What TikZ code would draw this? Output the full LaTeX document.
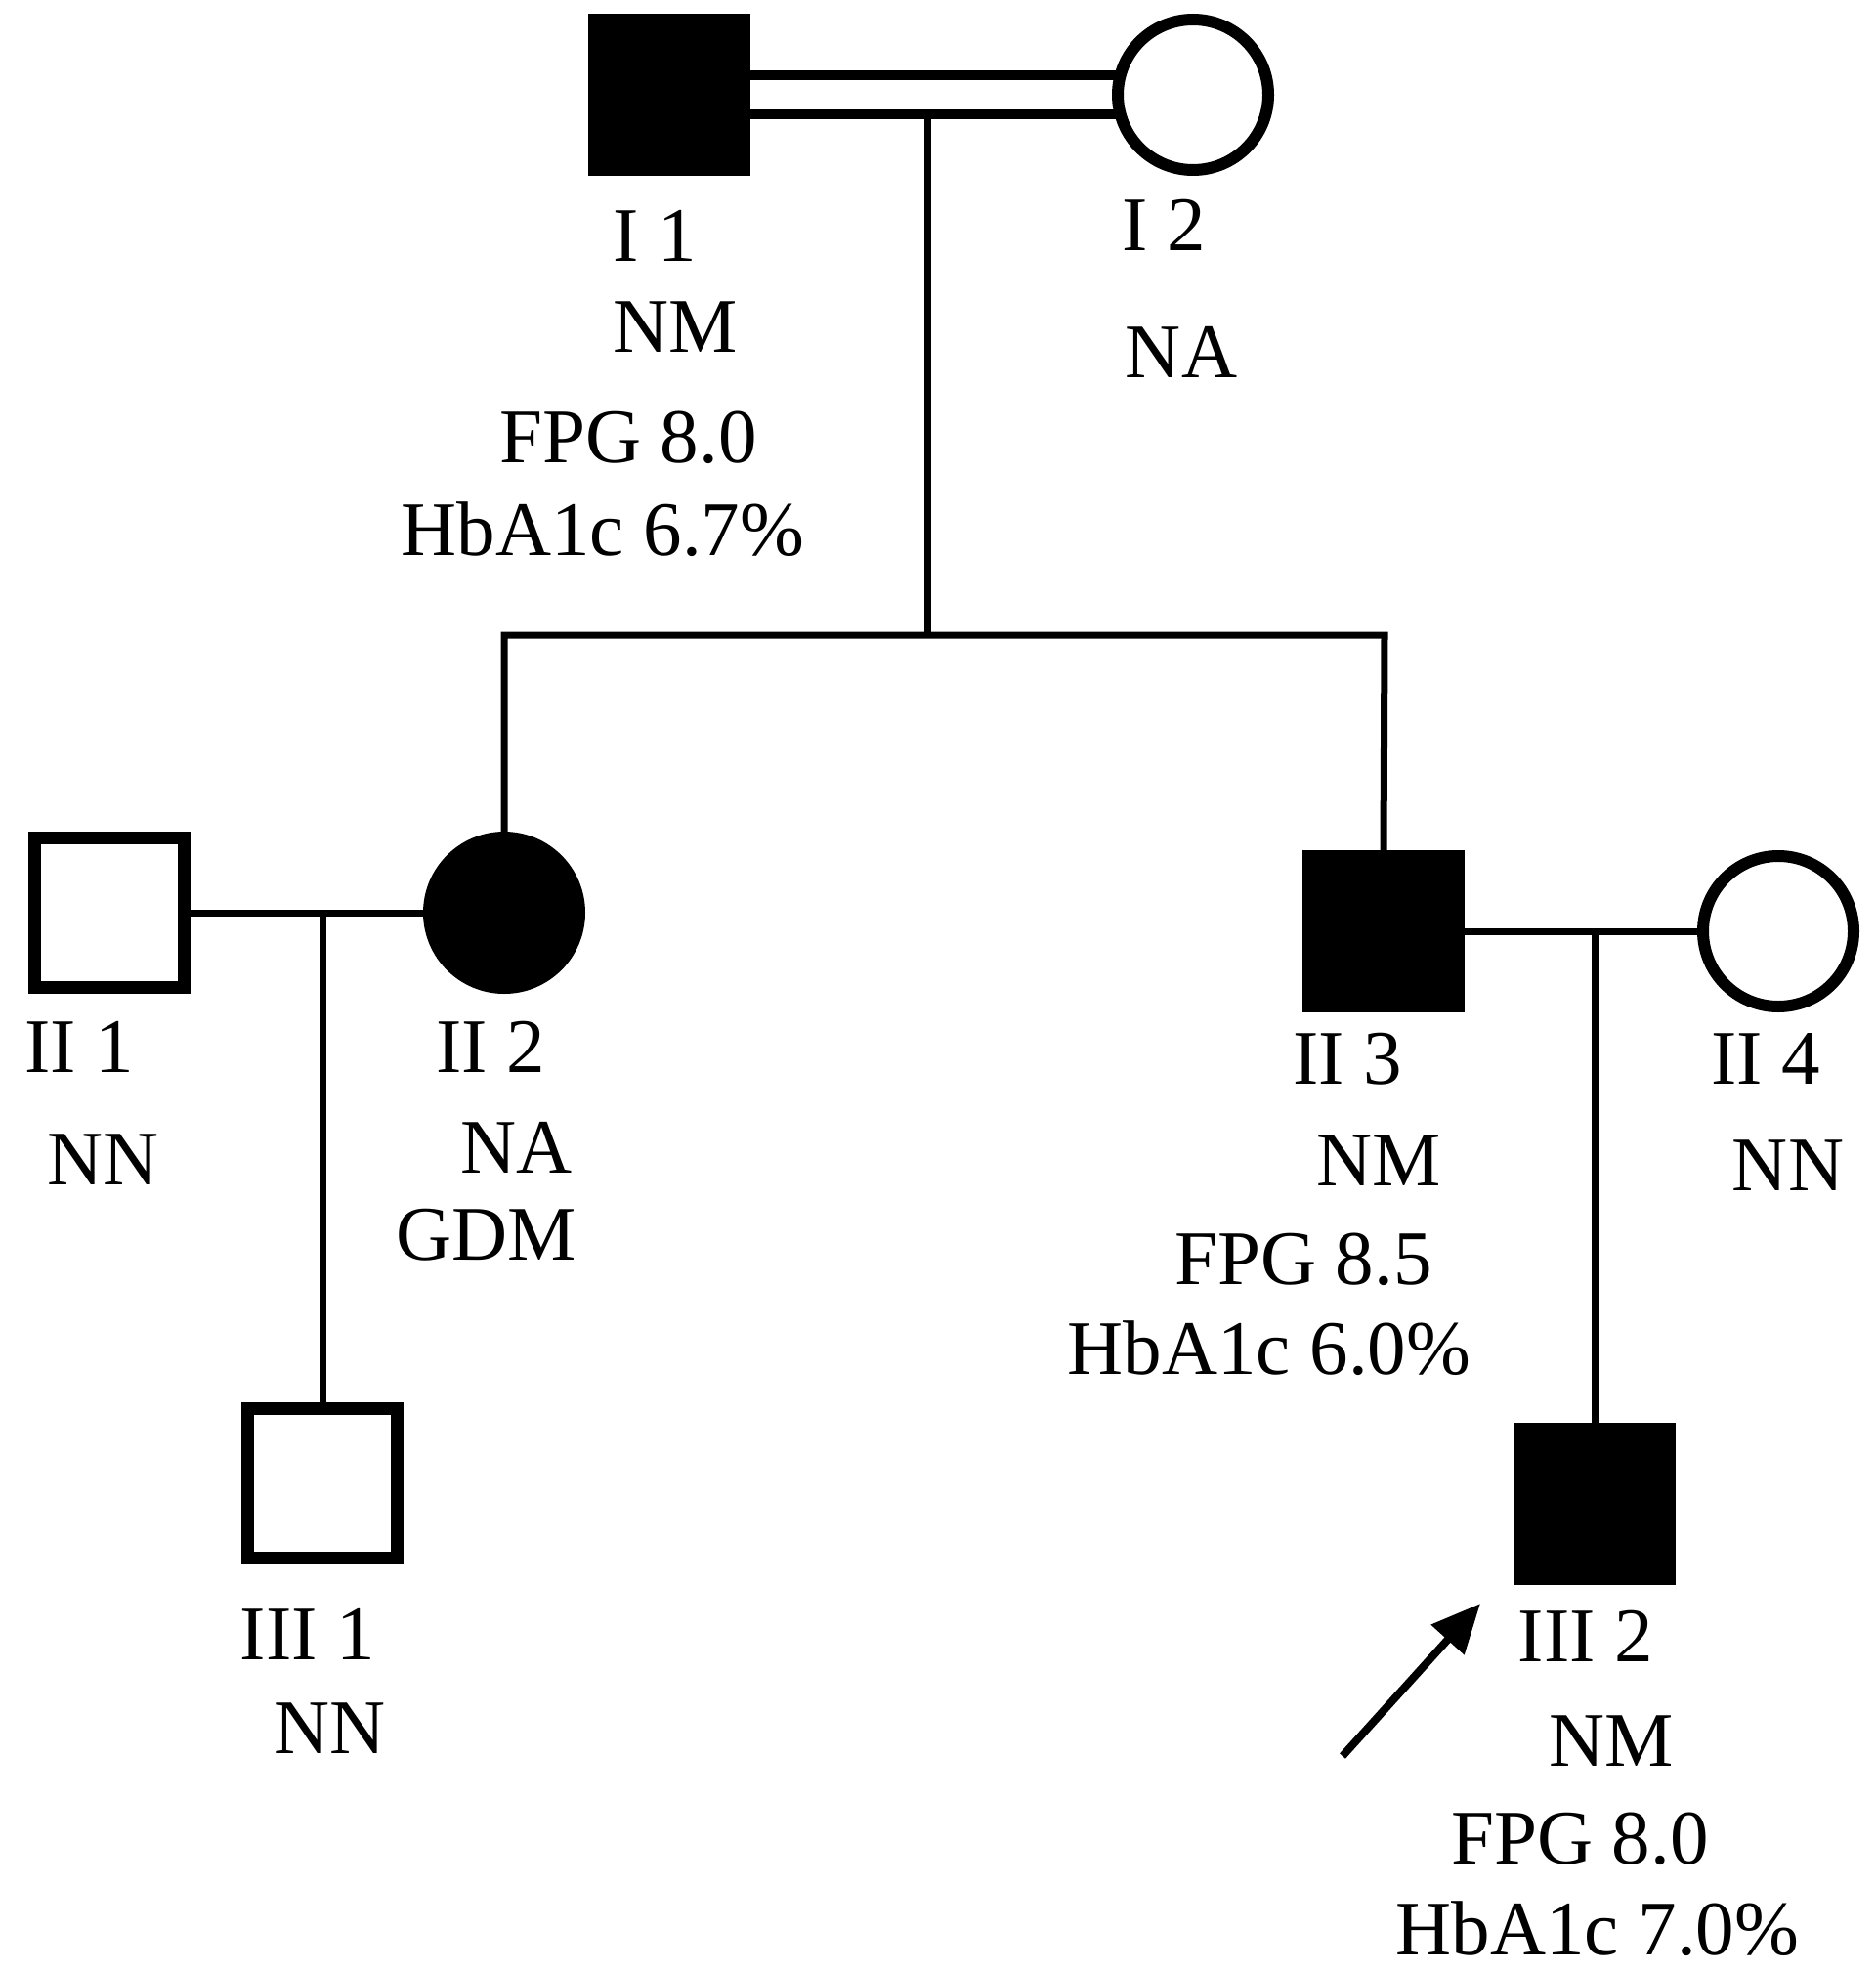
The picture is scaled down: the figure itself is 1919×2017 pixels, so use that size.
\documentclass[tikz,border=0pt]{standalone}
\usepackage{fontspec}
\setmainfont{Liberation Serif}
\usetikzlibrary{arrows.meta}
\pgfdeclarelayer{bg}
\pgfsetlayers{bg,main}
\begin{document}
\begin{tikzpicture}[x=1pt,y=-1pt,
  filledm/.style={rectangle,fill=black,minimum size=166pt,inner sep=0pt,outer sep=0pt},
  openm/.style={rectangle,draw=black,fill=white,line width=13pt,minimum size=153pt,inner sep=0pt,outer sep=0pt},
  openf/.style={circle,draw=black,fill=white,line width=12pt,minimum size=154pt,inner sep=0pt,outer sep=0pt},
  filledf/.style={circle,fill=black,minimum size=166pt,inner sep=0pt,outer sep=0pt},
  link/.style={line width=7pt},
  lbl/.style={anchor=base,inner sep=0pt,font=\fontsize{79}{90}\selectfont}]
\begin{pgfonlayer}{bg}
\fill[white] (0,0) rectangle (1919,2017);
\end{pgfonlayer}
\useasboundingbox (0,0) rectangle (1919,2017);

% individuals
\node[filledm] (I1) at (685,97) {};
\node[openf]   (I2) at (1221,97) {};
\node[openm]   (II1) at (112,934) {};
\node[filledf] (II2) at (516,934) {};
\node[filledm] (II3) at (1416,953) {};
\node[openf]   (II4) at (1820,953) {};
\node[openm]   (III1) at (330,1518) {};
\node[filledm] (III2) at (1632,1539) {};

% line junctions
\coordinate (m1) at (949,120);
\coordinate (s1) at (949,650);
\coordinate (sL) at (516,650);
\coordinate (sR) at (1417,650);
\coordinate (c1) at (330,934);
\coordinate (c2) at (1632,953);
\coordinate (a1) at (1374,1797);
\coordinate (a2) at (1515,1641);

\begin{pgfonlayer}{bg}
\draw[link] (m1) -- (s1);
\draw[link,line join=miter] (II2.north) -- (sL) -- (sR) -- (II3.north);
\draw[line width=10pt,double=white,double distance=30pt] (I1.east) -- (I2.west);
\draw[link] (II1.east) -- (II2.west);
\draw[link] (c1) -- (III1.north);
\draw[link] (II3.east) -- (II4.west);
\draw[link] (c2) -- (III2.north);
\end{pgfonlayer}

% proband arrow
\draw[line width=8pt,-{Triangle[length=50pt,width=44pt]}] (a1) -- (a2);

% labels
\node[lbl] (tI1)  at (670,268)  {I 1};
\node[lbl] (gI1)  at (691,360)  {NM};
\node[lbl] (fI1)  at (643,473)  {FPG 8.0};
\node[lbl] (hI1)  at (617,568)  {HbA1c 6.7\%};
\node[lbl] (tI2)  at (1191,257) {I 2};
\node[lbl] (gI2)  at (1209,386) {NA};
\node[lbl] (tII1) at (81,1097)  {II 1};
\node[lbl] (gII1) at (106,1212) {NN};
\node[lbl] (tII2) at (502,1097) {II 2};
\node[lbl] (gII2) at (529,1200) {NA};
\node[lbl] (dII2) at (498,1289) {GDM};
\node[lbl] (tII3) at (1379,1109) {II 3};
\node[lbl] (gII3) at (1411,1213) {NM};
\node[lbl] (fII3) at (1334,1314) {FPG 8.5};
\node[lbl] (hII3) at (1299,1406) {HbA1c 6.0\%};
\node[lbl] (tII4) at (1807,1109) {II 4};
\node[lbl] (gII4) at (1830,1218) {NN};
\node[lbl] (tIII1) at (315,1698) {III 1};
\node[lbl] (gIII1) at (338,1794) {NN};
\node[lbl] (tIII2) at (1623,1700) {III 2};
\node[lbl] (gIII2) at (1649,1807) {NM};
\node[lbl] (fIII2) at (1617,1907) {FPG 8.0};
\node[lbl] (hIII2) at (1635,2000) {HbA1c 7.0\%};
\end{tikzpicture}
\end{document}
